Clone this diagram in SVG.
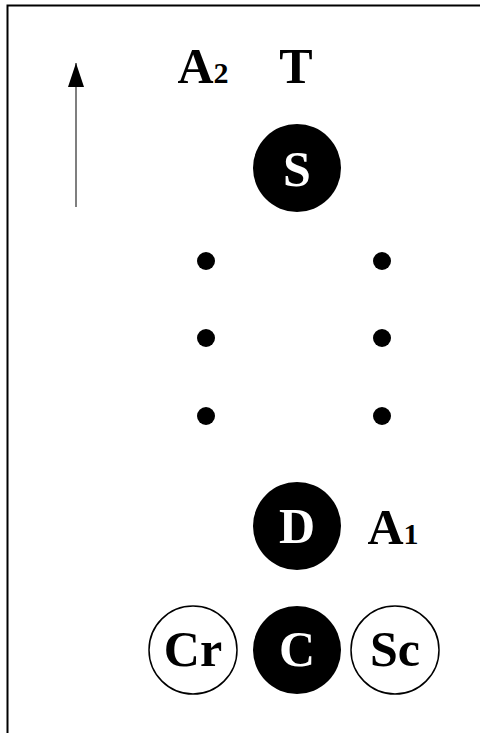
<svg xmlns="http://www.w3.org/2000/svg" width="480" height="733" viewBox="0 0 480 733">
<defs>
<marker id="ah" viewBox="0 0 24 16" refX="24" refY="8" markerWidth="24" markerHeight="16" markerUnits="userSpaceOnUse" orient="auto">
<path d="M0,0 L24,8 L0,16 Z" fill="#000"/>
</marker>
</defs>
<style>
text{font-family:"Liberation Serif","DejaVu Serif",serif;font-weight:bold;text-anchor:middle}
.lbl{font-size:50px;fill:#000}
.sub{font-size:30px}
.fill circle{fill:#000}
.fill text{fill:#fff;font-size:50px}
.open circle{fill:#fff;stroke:#000;stroke-width:1.5}
.open text{fill:#000;font-size:50px}
.dot{fill:#000}
</style>
<rect width="480" height="733" fill="#fff"/>
<rect x="7.5" y="5.5" width="480" height="740" fill="none" stroke="#000" stroke-width="2"/>
<g id="connectors">
<line x1="76" y1="207" x2="76" y2="63" stroke="#555" stroke-width="1.5" marker-end="url(#ah)"/>
</g>
<g id="label-A2"><text class="lbl" x="203" y="83">A<tspan class="sub">2</tspan></text></g>
<g id="label-T"><text class="lbl" x="296" y="83">T</text></g>
<g id="node-S" class="fill"><circle cx="297" cy="168" r="44"/><text x="297" y="186">S</text></g>
<g id="dots">
<circle class="dot" cx="206" cy="261" r="9"/>
<circle class="dot" cx="206" cy="338" r="9"/>
<circle class="dot" cx="206" cy="416" r="9"/>
<circle class="dot" cx="382" cy="261" r="9"/>
<circle class="dot" cx="382" cy="338" r="9"/>
<circle class="dot" cx="382" cy="416" r="9"/>
</g>
<g id="node-D" class="fill"><circle cx="297" cy="526" r="44"/><text x="297" y="543">D</text></g>
<g id="label-A1"><text class="lbl" x="393" y="544">A<tspan class="sub">1</tspan></text></g>
<g id="node-Cr" class="open"><circle cx="193" cy="650" r="44"/><text x="193" y="666">Cr</text></g>
<g id="node-C" class="fill"><circle cx="297" cy="650" r="44"/><text x="297" y="666">C</text></g>
<g id="node-Sc" class="open"><circle cx="395" cy="650" r="44"/><text x="395" y="666">Sc</text></g>
</svg>
